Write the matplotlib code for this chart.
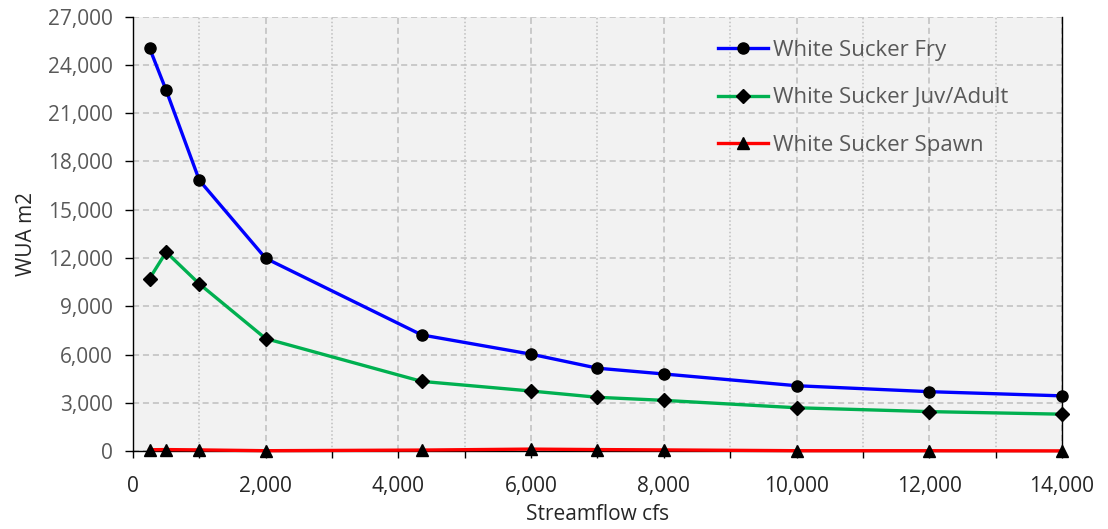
import matplotlib
matplotlib.use("Agg")
import matplotlib.pyplot as plt
from matplotlib.ticker import MultipleLocator, FuncFormatter

plt.rcParams['font.family'] = ['Open Sans', 'DejaVu Sans']

flow = [250, 500, 1000, 2000, 4350, 6000, 7000, 8000, 10000, 12000, 14000]
fry = [25050, 22430, 16830, 11980, 7220, 6020, 5150, 4790, 4060, 3690, 3430]
juv = [10720, 12370, 10390, 6990, 4330, 3730, 3340, 3150, 2690, 2450, 2290]
spawn = [80, 90, 70, 20, 60, 120, 90, 70, 20, 20, 10]

labels = ["White Sucker Fry", "White Sucker Juv/Adult", "White Sucker Spawn"]

FS = 15
LFS = 16

fig = plt.figure(figsize=(11.08, 5.29), dpi=100)
ax = fig.add_axes([0.120, 0.1474, 0.8385, 0.821])
ax.set_facecolor('#F2F2F2')

ax.plot(flow, fry, color='#0000FF', lw=2.4, marker='o', ms=8, mfc='black', mec='black', label=labels[0], zorder=5, clip_on=False)
ax.plot(flow, juv, color='#00B050', lw=2.4, marker='D', ms=7, mfc='black', mec='black', label=labels[1], zorder=5, clip_on=False)
ax.plot(flow, spawn, color='#FF0000', lw=2.4, marker='^', ms=8, mfc='black', mec='black', label=labels[2], zorder=5, clip_on=False)

ax.set_xlim(0, 14000)
ax.set_ylim(0, 27000)
ax.xaxis.set_major_locator(MultipleLocator(2000))
ax.xaxis.set_minor_locator(MultipleLocator(1000))
ax.yaxis.set_major_locator(MultipleLocator(3000))
fmt = FuncFormatter(lambda v, p: f"{int(v):,}")
ax.xaxis.set_major_formatter(fmt)
ax.yaxis.set_major_formatter(fmt)

ax.grid(which='major', axis='both', color='#BFBFBF', ls=(0, (4, 2.5)), lw=1.1)
ax.grid(which='minor', axis='x', color='#BFBFBF', ls=(0, (1, 1.5)), lw=1.1)
ax.set_axisbelow(True)

for s in ['left', 'bottom', 'right']:
    ax.spines[s].set_color('black')
    ax.spines[s].set_linewidth(1.0)
ax.spines['top'].set_visible(False)

ax.tick_params(axis='x', which='both', direction='out', length=5, width=1, colors='black', labelcolor='#262626', labelsize=FS, pad=13)
ax.tick_params(axis='y', which='major', direction='out', length=5.5, width=1, colors='black', labelcolor='#595959', labelsize=FS, pad=9)

ax.set_xlabel("Streamflow cfs", fontsize=FS, color='#262626', labelpad=5)
ax.set_ylabel("WUA m2", fontsize=FS, color='#262626', labelpad=8)

leg = ax.legend(loc='upper left', bbox_to_anchor=(0.6297, 0.947), frameon=False, fontsize=LFS,
                labelcolor='#595959', handlelength=2.25, handletextpad=0.22, labelspacing=1.2,
                borderaxespad=0, borderpad=0)

fig.savefig("out.png", dpi=100)
